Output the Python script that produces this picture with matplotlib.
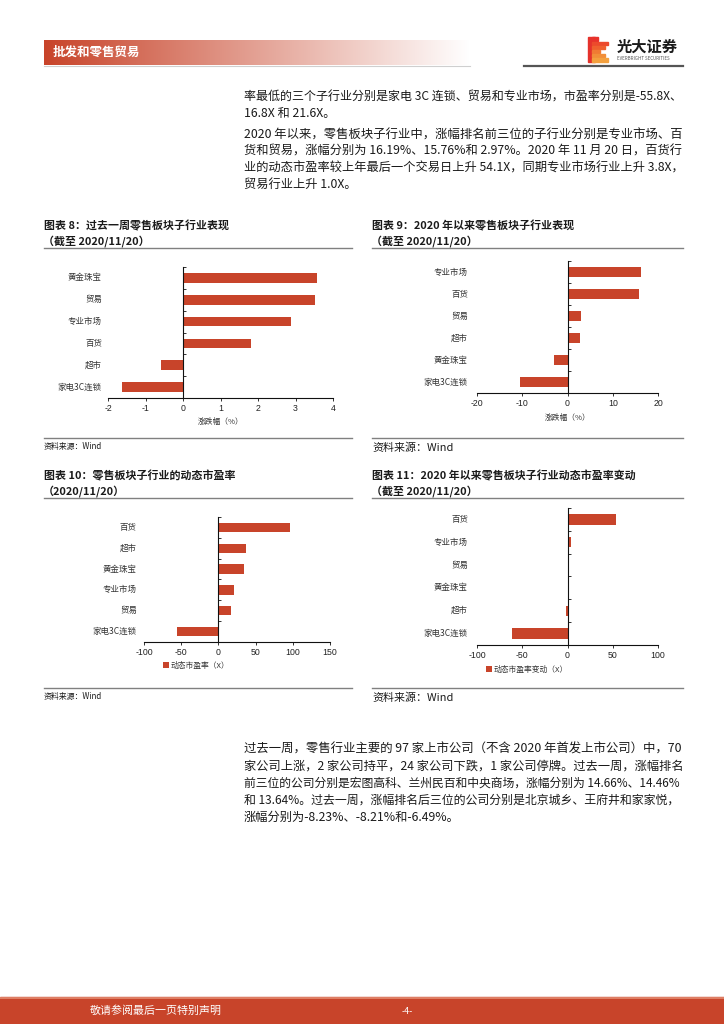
import matplotlib
matplotlib.use('Agg')
import matplotlib.pyplot as plt
import numpy as np
from matplotlib.patches import Rectangle
from matplotlib.transforms import blended_transform_factory

plt.rcParams['font.family'] = ['Noto Sans CJK SC', 'DejaVu Sans']
plt.rcParams['axes.unicode_minus'] = False

# ---------------- data ----------------
c8_cats = ['黄金珠宝', '贸易', '专业市场', '百货', '超市', '家电3C连锁']
c8_vals = [3.57, 3.51, 2.88, 1.81, -0.60, -1.64]
c8_ticks = [-2, -1, 0, 1, 2, 3, 4]

c9_cats = ['专业市场', '百货', '贸易', '超市', '黄金珠宝', '家电3C连锁']
c9_vals = [16.19, 15.76, 2.97, 2.67, -2.9, -10.6]
c9_ticks = [-20, -10, 0, 10, 20]

c10_cats = ['百货', '超市', '黄金珠宝', '专业市场', '贸易', '家电3C连锁']
c10_vals = [96.4, 36.9, 33.8, 21.6, 16.8, -55.8]
c10_ticks = [-100, -50, 0, 50, 100, 150]

c11_cats = ['百货', '专业市场', '贸易', '黄金珠宝', '超市', '家电3C连锁']
c11_vals = [54.1, 3.8, 1.0, 0.4, -1.2, -61.5]
c11_ticks = [-100, -50, 0, 50, 100]

top_text = [
    '率最低的三个子行业分别是家电 3C 连锁、贸易和专业市场，市盈率分别是-55.8X、',
    '16.8X 和 21.6X。',
    '2020 年以来，零售板块子行业中，涨幅排名前三位的子行业分别是专业市场、百',
    '货和贸易，涨幅分别为 16.19%、15.76%和 2.97%。2020 年 11 月 20 日，百货行',
    '业的动态市盈率较上年最后一个交易日上升 54.1X，同期专业市场行业上升 3.8X，',
    '贸易行业上升 1.0X。',
]
top_justify = [True, False, True, True, True, False]
bottom_text = [
    '过去一周，零售行业主要的 97 家上市公司（不含 2020 年首发上市公司）中，70',
    '家公司上涨，2 家公司持平，24 家公司下跌，1 家公司停牌。过去一周，涨幅排名',
    '前三位的公司分别是宏图高科、兰州民百和中央商场，涨幅分别为 14.66%、14.46%',
    '和 13.64%。过去一周，涨幅排名后三位的公司分别是北京城乡、王府井和家家悦，',
    '涨幅分别为-8.23%、-8.21%和-6.49%。',
]
bottom_justify = [True, True, True, True, False]

BAR = '#C8442A'
W, H = 724, 1024

fig = plt.figure(figsize=(7.24, 10.24), dpi=100)
fig.patch.set_facecolor('white')
bg = fig.add_axes([0, 0, 1, 1])
bg.axis('off')

# ---------------- header ----------------
n = 256
t = np.linspace(0, 1, n)
c0 = np.array([200, 68, 42]) / 255.0
c1 = np.array([1.0, 1.0, 1.0])
grad = (c0[None, :] * (1 - t[:, None]) + c1[None, :] * t[:, None])[None, :, :]
bg.imshow(grad, extent=[44, 470, 65, 40], aspect='auto', interpolation='bilinear', zorder=1)
bg.text(53, 52.5, '批发和零售贸易', color='white', fontsize=9, fontweight='bold',
        va='center', ha='left', zorder=3)
bg.plot([44, 470], [66, 66], color='#cfcfcf', lw=0.8, zorder=2)
bg.plot([524, 683], [66, 66], color='#555555', lw=1.6, zorder=2)

# logo
stripes = [(37, 40.5, 598), (41.5, 44.5, 608), (45.5, 48.5, 605), (49.5, 52.5, 600),
           (53.5, 56.5, 605), (57.5, 61.5, 608)]
cols = ['#E8322B', '#EC4A2C', '#EF602E', '#F07A33', '#F18E38', '#F3A03E']
bg.add_patch(Rectangle((588, 37), 7, 24.5, color='#E5322B', zorder=3))
for (y0, y1, xr), c in zip(stripes, cols):
    bg.add_patch(Rectangle((592, y0), xr - 592, y1 - y0, color=c, zorder=3))
bg.text(617, 47, '光大证券', fontsize=11, fontweight='bold', color='#1a1a1a',
        va='center', ha='left', zorder=3)
bg.text(617, 58, 'EVERBRIGHT SECURITIES', fontsize=3.2, color='#555555',
        va='center', ha='left', zorder=3)

bg.set_xlim(0, W)
bg.set_ylim(H, 0)

# ---------------- body text ----------------
renderer = fig.canvas.get_renderer()
X0, X1 = 244, 683
BASE = 8.8


def para(lines, ys, justify):
    objs = []
    for s, y, j in zip(lines, ys, justify):
        tx = bg.text(X0, y, s, fontsize=BASE, color='#1a1a1a', va='center', ha='left')
        if j:
            w = tx.get_window_extent(renderer).width
            tx.set_fontsize(BASE * (X1 - X0) / w)
        objs.append(tx)
    return objs


para(top_text, [97, 113.5, 135, 151.5, 168, 184.5], top_justify)
para(bottom_text, [749, 766, 783, 800, 817], bottom_justify)

# ---------------- footer ----------------
bg.add_patch(Rectangle((0, 997), W, 27, color='#C8442A', zorder=2))
bg.plot([0, W], [997.5, 997.5], color='#E38A70', lw=1.2, zorder=3)
bg.text(90, 1011, '敬请参阅最后一页特别声明', color='white', fontsize=7.9,
        va='center', ha='left', zorder=4)
bg.text(407, 1011, '-4-', color='white', fontsize=6.5, va='center', ha='center', zorder=4)


# ---------------- charts ----------------
def px_axes(l, r, t_, b):
    return fig.add_axes([l / W, 1 - b / H, (r - l) / W, (b - t_) / H])


def bar_chart(rect, cats, vals, ticks, label_x, legend=None, legend_xy=None, xlabel=None, xlabel_y=None):
    l, r, t_, b = rect
    ax = px_axes(l, r, t_, b)
    ax.set_facecolor('none')
    k = len(cats)
    ypos = np.arange(k)[::-1]
    ax.barh(ypos, vals, height=0.45, color=BAR, label=legend, zorder=2)
    ax.set_xlim(ticks[0], ticks[-1])
    ax.set_ylim(-0.5, k - 0.5)
    for s in ['top', 'right']:
        ax.spines[s].set_visible(False)
    ax.spines['left'].set_position(('data', 0))
    ax.spines['left'].set_zorder(3)
    for s in ['left', 'bottom']:
        ax.spines[s].set_color('#111111')
        ax.spines[s].set_linewidth(0.8)
    ax.set_yticks(np.arange(-0.5, k, 1.0))
    ax.tick_params(axis='y', direction='in', length=2.2, width=0.6, labelleft=False, color='#111111')
    ax.set_xticks(ticks)
    ax.set_xticklabels([str(v) for v in ticks], fontsize=6.3, color='#222222',
                       family=['Liberation Sans', 'DejaVu Sans'])
    ax.tick_params(axis='x', direction='out', length=1.8, width=0.6, pad=2.7, color='#111111')
    trans = blended_transform_factory(bg.transData, ax.transData)
    for c, y in zip(cats, ypos):
        ax.text(label_x, y, c, transform=trans, ha='right', va='center', fontsize=6.1,
                color='#333333', clip_on=False)
    if xlabel:
        bg.text((l + r) / 2, xlabel_y, xlabel, fontsize=5.6, color='#333333', ha='center', va='center')
    if legend:
        lx, ly = legend_xy
        ax.legend(loc='center', bbox_to_anchor=(lx / W, 1 - ly / H), bbox_transform=fig.transFigure,
                  frameon=False, fontsize=5.6, handlelength=0.8, handleheight=0.8,
                  handletextpad=0.25, borderpad=0, labelcolor='#333333')
    return ax


def frame(x0, x1, title1, title2, ty1, ty2, line_top, line_bot, src, src_y, src_size):
    bg.text(x0, ty1, title1, fontsize=7.9, fontweight='bold', color='#1a1a1a', ha='left', va='center')
    bg.text(x0 - 1, ty2, title2, fontsize=7.9, fontweight='bold', color='#1a1a1a', ha='left', va='center')
    bg.plot([x0, x1], [line_top, line_top], color='#808080', lw=1.0)
    bg.plot([x0, x1], [line_bot, line_bot], color='#808080', lw=1.0)
    bg.text(x0, src_y, src, fontsize=src_size, color='#1a1a1a', ha='left', va='center')


frame(44, 352, '图表 8：过去一周零售板块子行业表现', '（截至 2020/11/20）', 225.5, 241.5, 248, 438,
      '资料来源：Wind', 447, 5.7)
frame(372, 683, '图表 9：2020 年以来零售板块子行业表现', '（截至 2020/11/20）', 225.5, 241.5, 248, 438,
      '资料来源：Wind', 448, 7.9)
frame(44, 352, '图表 10：零售板块子行业的动态市盈率', '（2020/11/20）', 476, 491, 498, 688,
      '资料来源：Wind', 697, 5.7)
frame(372, 683, '图表 11：2020 年以来零售板块子行业动态市盈率变动', '（截至 2020/11/20）', 476, 491, 498, 688,
      '资料来源：Wind', 698, 7.9)

bar_chart((108, 333, 267, 398), c8_cats, c8_vals, c8_ticks, 102, xlabel='涨跌幅（%）', xlabel_y=422)
bar_chart((477, 658, 261, 393), c9_cats, c9_vals, c9_ticks, 468, xlabel='涨跌幅（%）', xlabel_y=418)
bar_chart((144, 330, 517, 642), c10_cats, c10_vals, c10_ticks, 137,
          legend='动态市盈率（X）', legend_xy=(196, 666))
bar_chart((477, 658, 508, 645), c11_cats, c11_vals, c11_ticks, 468,
          legend='动态市盈率变动（X）', legend_xy=(527, 670))

fig.savefig('out.png', dpi=100, facecolor='white')
